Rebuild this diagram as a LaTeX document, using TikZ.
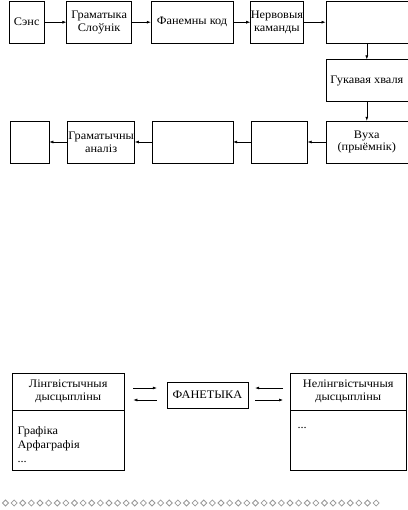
\documentclass[tikz,border=0pt]{standalone}
\usepackage{fontspec}
\setmainfont[FakeStretch=1.07]{Liberation Serif}
\usetikzlibrary{positioning,arrows.meta}

\begin{document}
\begin{tikzpicture}[
  x=1pt, y=-1pt,
  font=\fontsize{11.5}{12.8}\selectfont,
  box/.style={draw, minimum height=42pt, inner xsep=0pt, inner ysep=1pt, align=center},
  arr/.style={-{Latex[length=4pt, width=3pt]}, line width=0.6pt},
  orn/.style={draw=black!40, line width=0.8pt},
  node distance=18pt]
\useasboundingbox (0,0) rectangle (407,510);
% speaker chain
\node[box, minimum width=35pt, anchor=north west] (sens) at (9,1) {Сэнс};
\node[box, minimum width=65pt, right=22pt of sens] (gram) {Граматыка\\Слоўнік};
\node[box, minimum width=82pt, right=19pt of gram] (phon) {Фанемны код};
\node[box, minimum width=53pt, right=17pt of phon] (nerv) {Нервовыя\\каманды};
\node[box, minimum width=82pt, right=22pt of nerv] (speak) {};
\node[box, minimum width=82pt, below=16pt of speak] (wave) {Гукавая хваля};
% listener chain
\node[box, minimum width=82pt, below=19pt of wave] (ear) {Вуха\\(прыёмнік)};
\node[box, minimum width=56pt, left=18pt of ear] (blanka) {};
\node[box, minimum width=81pt, left=18pt of blanka] (blankb) {};
\node[box, minimum width=67pt, left=17pt of blankb] (gana) {Граматычны\\аналіз};
\node[box, minimum width=39pt, left=18pt of gana] (blankc) {};
\draw[arr] (sens) -- (gram);
\draw[arr] (gram) -- (phon);
\draw[arr] (phon) -- (nerv);
\draw[arr] (nerv) -- (speak);
\draw[arr] (speak) -- (wave);
\draw[arr] (wave) -- (ear);
\draw[arr] (ear) -- (blanka);
\draw[arr] (blanka) -- (blankb);
\draw[arr] (blankb) -- (gana);
\draw[arr] (gana) -- (blankc);
% disciplines
\node[box, minimum width=112pt, minimum height=37pt, anchor=north west] (lhead) at (12,373) {Лінгвістычныя\\дысцыпліны};
\node[box, minimum width=112pt, minimum height=60pt, below=0pt of lhead] (llist) {};
\node[anchor=north west, align=left, font=\fontsize{11.5}{14}\selectfont] (lterms) at ([xshift=2pt, yshift=-13pt]llist.north west) {Графіка\\Арфаграфія\\...};
\node[box, minimum width=116pt, minimum height=37pt, anchor=north west] (rhead) at (290,373) {Нелінгвістычныя\\дысцыпліны};
\node[box, minimum width=116pt, minimum height=60pt, below=0pt of rhead] (rlist) {};
\node[anchor=north west] (rterms) at ([xshift=4pt, yshift=-13pt]rlist.north west) {...};
\node[box, minimum width=81pt, minimum height=26pt] (fan) at (207.5,395) {ФАНЕТЫКА};
\draw[arr, shorten <=9pt, shorten >=10pt] ([yshift=7pt]fan.west -| lhead.east) -- ([yshift=7pt]fan.west);
\draw[arr, shorten <=10pt, shorten >=9pt] ([yshift=-5pt]fan.west) -- ([yshift=-5pt]fan.west -| lhead.east);
\draw[arr, shorten <=7pt, shorten >=7pt] ([yshift=7pt]fan.east -| rhead.west) -- ([yshift=7pt]fan.east);
\draw[arr, shorten <=7pt, shorten >=7pt] ([yshift=-5pt]fan.east) -- ([yshift=-5pt]fan.east -| rhead.west);
% ornament
\foreach \i in {0,...,43}
  \draw[orn] ({5.5+8.62*\i},503) +(-3,0) -- +(0,3) -- +(3,0) -- +(0,-3) -- cycle;
\end{tikzpicture}
\end{document}
